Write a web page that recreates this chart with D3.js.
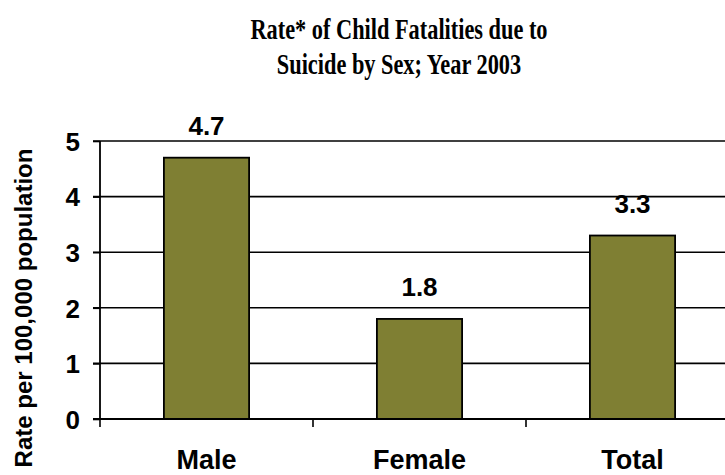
<!DOCTYPE html>
<html><head><meta charset="utf-8">
<script src="https://cdn.jsdelivr.net/npm/d3@7"></script>
<style>body{margin:0;background:#fff;}svg{display:block;}</style>
</head><body>
<svg id="chart" width="725" height="475"></svg>
<script>
const categories = ["Male", "Female", "Total"];
const values = [4.7, 1.8, 3.3];
const valueLabels = ["4.7", "1.8", "3.3"];
const yTicks = [0, 1, 2, 3, 4, 5];
const titleLines = ["Rate* of Child Fatalities due to", "Suicide by Sex; Year 2003"];
const yTitle = "Rate per 100,000 population";

const svg = d3.select("#chart");
const mLeft = 100, mTop = 141, mBottom = 419, step = 213;
const sans = "Liberation Sans, Arial, sans-serif";
const x = d3.scaleBand().domain(categories).range([mLeft, mLeft + step * categories.length]).paddingInner(0.6).paddingOuter(0.3);
const y = d3.scaleLinear().domain([0, 5]).range([mBottom, mTop]);

// gridlines
svg.append("g").selectAll("line").data(yTicks.filter(d => d > 0)).join("line")
  .attr("x1", mLeft - 7).attr("x2", 725).attr("y1", d => y(d)).attr("y2", d => y(d))
  .attr("stroke", "#000").attr("stroke-width", 1.6);

// bars
svg.append("g").selectAll("rect").data(values).join("rect")
  .attr("x", (d, i) => x(categories[i])).attr("width", x.bandwidth())
  .attr("y", d => y(d)).attr("height", d => y(0) - y(d))
  .attr("fill", "#7f7f33").attr("stroke", "#000").attr("stroke-width", 1.8);

// y axis
const yAxis = d3.axisLeft(y).tickValues(yTicks).tickSize(7).tickPadding(13).tickFormat(d3.format("d"));
const gy = svg.append("g").attr("transform", `translate(${mLeft},0)`).call(yAxis);
gy.select(".domain").attr("stroke-width", 1.8).attr("d", `M-7,${mBottom}H0V${mTop}`);
gy.selectAll(".tick line").attr("stroke-width", 1.6);
gy.selectAll(".tick text").attr("font-family", sans)
  .attr("font-weight", "bold").attr("font-size", 26).attr("fill", "#000").attr("dy", "0.36em");

// x axis
const xEdges = d3.range(categories.length + 1).map(i => mLeft + i * step);
svg.append("line").attr("x1", mLeft - 7).attr("x2", 725).attr("y1", mBottom).attr("y2", mBottom)
  .attr("stroke", "#000").attr("stroke-width", 1.8);
svg.append("g").selectAll("line").data(xEdges).join("line")
  .attr("x1", d => d).attr("x2", d => d).attr("y1", mBottom).attr("y2", mBottom + 8)
  .attr("stroke", "#000").attr("stroke-width", 1.6);
svg.append("g").selectAll("text").data(categories).join("text")
  .attr("x", d => x(d) + x.bandwidth() / 2).attr("y", 469)
  .attr("text-anchor", "middle").attr("font-family", sans)
  .attr("font-weight", "bold").attr("font-size", 27).text(d => d);

// value labels
svg.append("g").selectAll("text").data(values).join("text")
  .attr("x", (d, i) => x(categories[i]) + x.bandwidth() / 2).attr("y", d => y(d) - 23)
  .attr("text-anchor", "middle").attr("font-family", sans)
  .attr("font-weight", "bold").attr("font-size", 26).text((d, i) => valueLabels[i]);

// y title
svg.append("text").attr("transform", "translate(32,308) rotate(-90)")
  .attr("text-anchor", "middle").attr("font-family", sans)
  .attr("font-weight", "bold").attr("font-size", 24).text(yTitle);

// title
svg.append("g").selectAll("text").data(titleLines).join("text")
  .attr("transform", (d, i) => `translate(399,${39 + i * 35}) scale(0.77,1)`)
  .attr("text-anchor", "middle").attr("font-family", "Liberation Serif, Times New Roman, serif")
  .attr("font-weight", "bold").attr("font-size", 29).text(d => d);
</script>
</body></html>
